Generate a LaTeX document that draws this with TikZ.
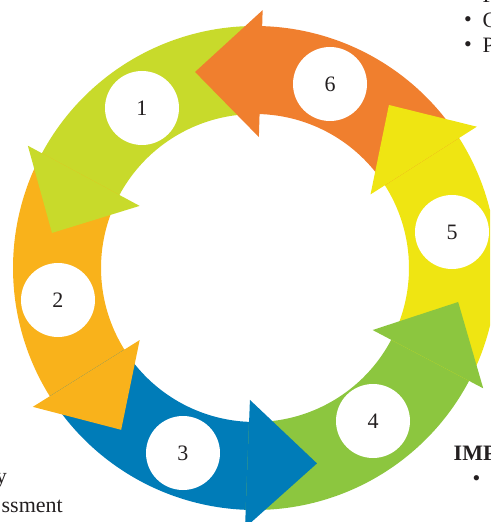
\documentclass[tikz,border=0pt]{standalone}
\usepackage{fontspec}
\setmainfont{Liberation Serif}
\definecolor{clime}{HTML}{C8DA2B}
\definecolor{camber}{HTML}{F9B21B}
\definecolor{cblue}{HTML}{007CB8}
\definecolor{cgreen}{HTML}{8CC63F}
\definecolor{cyellow}{HTML}{EFE512}
\definecolor{corange}{HTML}{F07F2E}
\definecolor{ctext}{HTML}{231F20}
\tikzset{
  numc/.style={circle, fill=white, minimum size=74pt, inner sep=0pt, text=ctext,
    font=\fontsize{22}{22}\selectfont},
  sidetext/.style={inner sep=0pt, text=ctext, font=\fontsize{22}{26}\selectfont},
}
\begin{document}
\begin{tikzpicture}[x=1pt,y=1pt]
\useasboundingbox (-255,-254) rectangle (235,268);
\clip (-255,-254) rectangle (235,268);
% ring bands (each runs from the previous head's base to its own head's base)
\foreach \c/\a/\b in {clime/88.3/152.2, camber/151.7/212.5, cblue/212/268.3,
                      cgreen/267.8/332.7, cyellow/332.2/393, corange/32.5/88.8}
  \fill[\c] (\a:242) arc[start angle=\a, end angle=\b, radius=242pt]
    -- (\b:154) arc[start angle=\b, end angle=\a, radius=154pt] -- cycle;
% arrow heads
\foreach \c/\b/\t/\rt/\ro/\ri in {clime/151.7/170.2/206/258/131,
                                  camber/212/230.4/210/262/136,
                                  cblue/267.8/287.6/205/260/132,
                                  cgreen/332.2/350.5/206/258/133,
                                  cyellow/392.5/410.6/211/263/137,
                                  corange/88.3/107/205/258/131}
  \fill[\c] (\b:\ro) -- (\t:\rt) -- (\b:\ri) -- cycle;
% numbered circles
\node[numc] (n1) at (-113,160) {1};
\node[numc] (n2) at (-197,-32) {2};
\node[numc] (n3) at (-72,-185) {3};
\node[numc] (n4) at (118,-153) {4};
\node[numc] (n5) at (197,36) {5};
\node[numc] (n6) at (75,184) {6};
% surrounding page text (cut by the picture's edge)
\node[sidetext, anchor=base west] (t0) at (227.5,265) {P};
\node[sidetext] (b1) at (213,246) {•};
\node[sidetext, anchor=base west] (t1) at (227.5,240) {C};
\node[sidetext] (b2) at (213,221) {•};
\node[sidetext, anchor=base west] (t2) at (227.5,215) {P};
\node[sidetext, anchor=base west, font=\fontsize{22}{26}\selectfont\bfseries] (t3) at (198.5,-192) {IMP};
\node[sidetext] (b3) at (221.5,-213) {•};
\node[sidetext, anchor=base east] (t4) at (-248,-215) {y};
\node[sidetext, anchor=base east] (t5) at (-192,-244) {ssment};
\end{tikzpicture}
\end{document}
